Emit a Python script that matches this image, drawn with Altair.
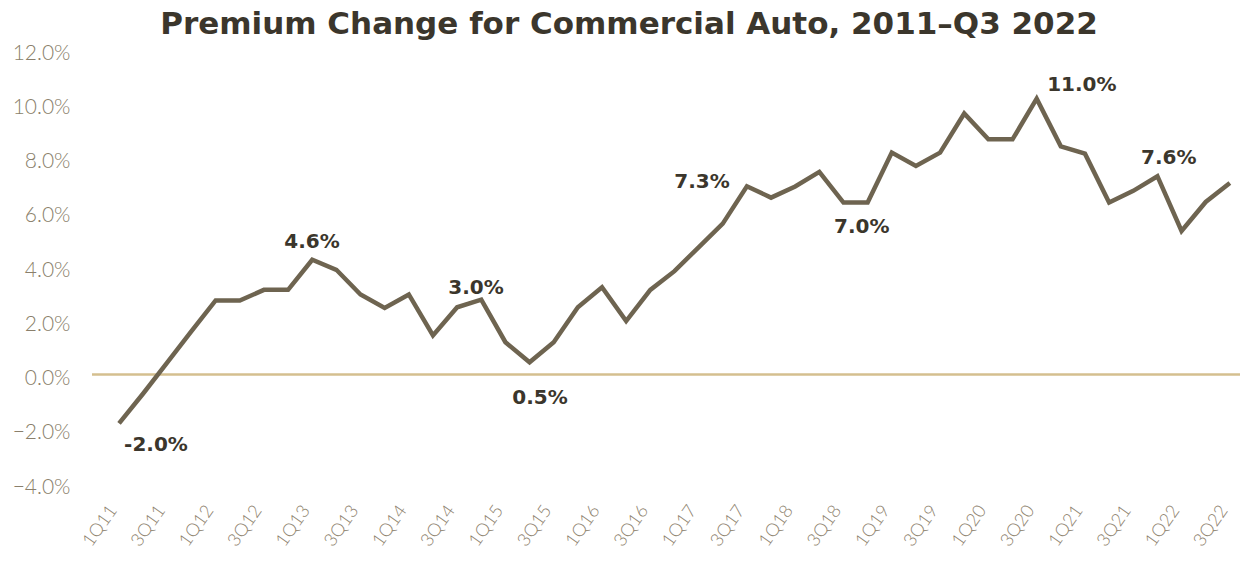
import altair as alt
import pandas as pd

quarters = [f"{q}Q{y}" for y in range(11, 23) for q in range(1, 5)][:47]
values = [-1.80, -0.70, 0.45, 1.60, 2.73, 2.73, 3.12, 3.12, 4.23, 3.86,
          2.95, 2.45, 2.95, 1.44, 2.48, 2.76, 1.19, 0.45, 1.19, 2.48,
          3.22, 1.97, 3.12, 3.81, 4.69, 5.56, 6.94, 6.52, 6.93, 7.47,
          6.34, 6.34, 8.18, 7.69, 8.18, 9.62, 8.67, 8.67, 10.17, 8.41,
          8.14, 6.34, 6.77, 7.31, 5.29, 6.36, 7.06]
tick_idx = list(range(0, 47, 2))
y_ticks = [-4, -2, 0, 2, 4, 6, 8, 10, 12]

ann_text = ["-2.0%", "4.6%", "3.0%", "0.5%", "7.3%", "7.0%", "11.0%", "7.6%"]
ann_x = [1.53, 7.99, 14.78, 17.43, 24.14, 30.76, 39.87, 43.47]
ann_y = [-2.6, 4.9, 3.2, -0.88, 7.1, 5.45, 10.68, 8.0]

df = pd.DataFrame({"i": list(range(len(values))), "q": quarters, "v": values})
ann = pd.DataFrame({"x": ann_x, "y": ann_y, "t": ann_text})
zero = pd.DataFrame({"y": [0]})

label_expr = "[" + ",".join(f"'{q}'" for q in quarters) + "][datum.value]"

xscale = alt.Scale(domain=[-1.12, 46.42], nice=False, zero=False)
yscale = alt.Scale(domain=[-4, 12], nice=False)

xaxis = alt.Axis(values=tick_idx, labelExpr=label_expr, labelAngle=-55,
                 labelFont="Lato", labelFontWeight=300, labelFontSize=18,
                 labelColor="#8f8470", domain=False, ticks=False, grid=False,
                 labelPadding=24, labelOffset=-6, title=None,
                 labelAlign="right", labelBaseline="middle")
yaxis = alt.Axis(values=y_ticks, labelExpr="format(datum.value/100, '.1%')",
                 labelFont="Lato", labelFontWeight=300, labelFontSize=21,
                 labelColor="#8a7f6b", domain=False, ticks=False, grid=False,
                 labelPadding=22, labelOffset=4, title=None)

base = alt.Chart(df)
rule = alt.Chart(zero).mark_rule(color="#d4bf8f", strokeWidth=2.5).encode(
    y=alt.Y("y:Q", scale=yscale, axis=yaxis))
line = base.mark_line(color="#6e6450", strokeWidth=4.5, strokeJoin="miter").encode(
    x=alt.X("i:Q", scale=xscale, axis=xaxis),
    y=alt.Y("v:Q", scale=yscale, axis=yaxis))
text = alt.Chart(ann).mark_text(font="DejaVu Sans", fontWeight="bold", fontSize=20,
                                color="#3b362c").encode(
    x=alt.X("x:Q", scale=xscale), y=alt.Y("y:Q", scale=yscale), text="t:N")

chart = alt.layer(rule, line, text).properties(
    width=1148, height=434,
    title=alt.Title("Premium Change for Commercial Auto, 2011\u2013Q3 2022",
                    font="DejaVu Sans", fontSize=31, fontWeight="bold", color="#3b362c",
                    anchor="middle", offset=1, dx=-37),
    autosize=alt.AutoSizeParams(type="none"),
    padding={"left": 84, "top": 41, "right": 10, "bottom": 75},
).configure_view(stroke=None)

chart.save("out.html", embed_options={"renderer": "svg", "actions": False})
